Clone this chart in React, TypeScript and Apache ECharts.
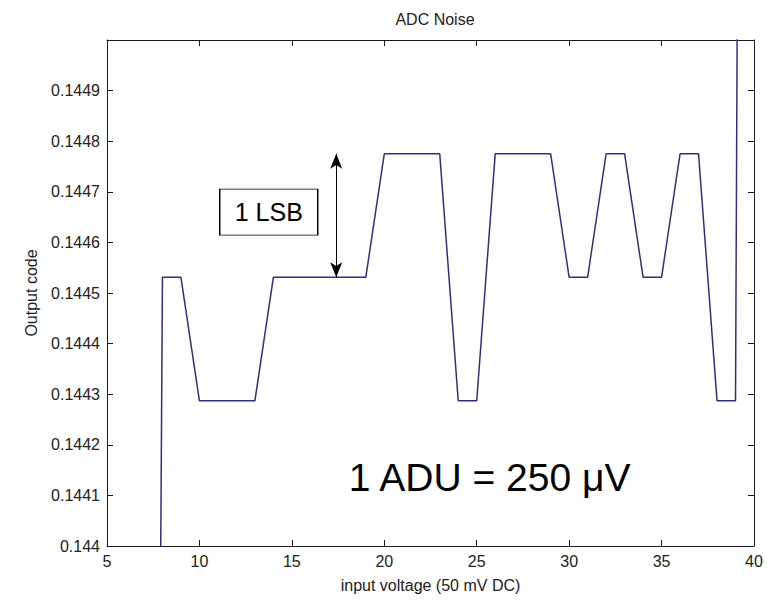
import React, { useEffect, useRef } from "react";
import * as echarts from "echarts";

// input voltage sample index (x) and measured output code (y)
const inputVoltage = [
  7, 8, 9, 10, 11, 12, 13, 14, 15, 16, 17, 18, 19, 20, 21, 22, 23, 24, 25, 26,
  27, 28, 29, 30, 31, 32, 33, 34, 35, 36, 37, 38, 39, 40,
];
const outputCode = [
  0.1388, 0.144531, 0.144531, 0.144287, 0.144287, 0.144287, 0.144287,
  0.144531, 0.144531, 0.144531, 0.144531, 0.144531, 0.144531, 0.144775,
  0.144775, 0.144775, 0.144775, 0.144287, 0.144287, 0.144775, 0.144775,
  0.144775, 0.144775, 0.144531, 0.144531, 0.144775, 0.144775, 0.144531,
  0.144531, 0.144775, 0.144775, 0.144287, 0.144287, 0.1525,
];

const X_MIN = 5;
const X_MAX = 40;
const X_STEP = 5;
const Y_MIN = 0.144;
const Y_MAX = 0.145;
const Y_STEP = 0.0001;

const titleText = "ADC Noise";
const xName = "input voltage (50 mV DC)";
const yName = "Output code";

// annotations (data coordinates)
const lsbArrowX = 17.4;
const lsbArrowFrom = 0.144775;
const lsbArrowTo = 0.144531;
const lsbLabelText = "1 LSB";
const lsbLabelAt = [13.75, 0.14466];
const aduLabelText = "1 ADU = 250 μV";
const aduLabelAt = [25.7, 0.144135];

const FONT = 'Arial, "Liberation Sans", Helvetica, sans-serif';
const AXIS_COLOR = "#1a1a1a";
const TEXT_COLOR = "#222";

export default function App() {
  const ref = useRef<HTMLDivElement>(null);

  useEffect(() => {
    if (!ref.current) return;
    const chart = echarts.init(ref.current, undefined, { renderer: "svg" });

    const axisCommon = {
      type: "value" as const,
      axisLine: { show: true, lineStyle: { color: AXIS_COLOR, width: 1 } },
      axisTick: {
        show: true,
        inside: true,
        length: 6,
        lineStyle: { color: AXIS_COLOR, width: 1 },
      },
      splitLine: { show: false },
    };

    chart.setOption({
      animation: false,
      backgroundColor: "#ffffff",
      textStyle: { fontFamily: FONT },
      title: {
        text: titleText,
        left: 430,
        textAlign: "center",
        top: 6,
        textStyle: {
          fontFamily: FONT,
          fontSize: 16,
          fontWeight: "normal",
          color: TEXT_COLOR,
        },
      },
      grid: { left: 107, right: 13, top: 40, bottom: 58, containLabel: false },
      xAxis: [
        {
          ...axisCommon,
          position: "bottom",
          min: X_MIN,
          max: X_MAX,
          interval: X_STEP,
          name: xName,
          nameLocation: "middle",
          nameGap: 31,
          nameTextStyle: { fontFamily: FONT, fontSize: 16, color: TEXT_COLOR },
          axisLabel: {
            show: true,
            margin: 7,
            fontFamily: FONT,
            fontSize: 16,
            color: TEXT_COLOR,
          },
        },
        {
          ...axisCommon,
          position: "top",
          min: X_MIN,
          max: X_MAX,
          interval: X_STEP,
          axisLabel: { show: false },
        },
      ],
      yAxis: [
        {
          ...axisCommon,
          position: "left",
          min: Y_MIN,
          max: Y_MAX,
          interval: Y_STEP,
          name: yName,
          nameLocation: "middle",
          nameGap: 68,
          nameTextStyle: { fontFamily: FONT, fontSize: 16, color: TEXT_COLOR },
          axisLabel: {
            show: true,
            margin: 7,
            showMaxLabel: false,
            fontFamily: FONT,
            fontSize: 16,
            color: TEXT_COLOR,
          },
        },
        {
          ...axisCommon,
          position: "right",
          min: Y_MIN,
          max: Y_MAX,
          interval: Y_STEP,
          axisLabel: { show: false },
        },
      ],
      series: [
        {
          type: "line",
          xAxisIndex: 0,
          yAxisIndex: 0,
          data: inputVoltage.map((x, i) => [x, outputCode[i]]),
          showSymbol: false,
          symbol: "none",
          clip: true,
          lineStyle: { color: "#2f2f80", width: 1.5 },
          markLine: {
            silent: true,
            symbol: ["arrow", "arrow"],
            symbolSize: [9, 15],
            label: { show: false },
            lineStyle: { color: "#000", width: 1, type: "solid" },
            data: [
              [
                { coord: [lsbArrowX, lsbArrowFrom] },
                { coord: [lsbArrowX, lsbArrowTo] },
              ],
            ],
          },
          markPoint: {
            silent: true,
            data: [
              {
                name: lsbLabelText,
                coord: lsbLabelAt,
                symbol: "rect",
                symbolSize: [98, 46],
                itemStyle: { color: "#fff", borderColor: "#000", borderWidth: 1 },
                label: {
                  show: true,
                  position: "inside",
                  formatter: "{b}",
                  fontFamily: FONT,
                  fontSize: 25,
                  color: "#000",
                },
              },
              {
                name: aduLabelText,
                coord: aduLabelAt,
                symbol: "rect",
                symbolSize: [1, 1],
                itemStyle: { color: "rgba(0,0,0,0)" },
                label: {
                  show: true,
                  position: "inside",
                  formatter: "{b}",
                  fontFamily: FONT,
                  fontSize: 39,
                  color: "#000",
                },
              },
            ],
          },
        },
      ],
    });

    return () => {
      chart.dispose();
    };
  }, []);

  return (
    <div
      ref={ref}
      style={{ position: "absolute", left: 0, top: 0, width: 767, height: 604 }}
    />
  );
}
